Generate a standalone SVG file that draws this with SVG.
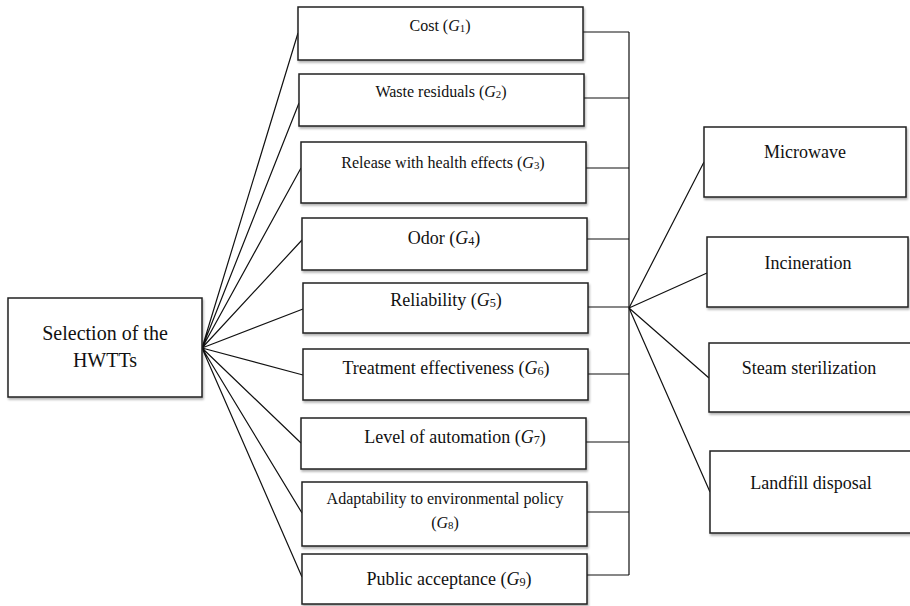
<svg xmlns="http://www.w3.org/2000/svg" width="910" height="606" viewBox="0 0 910 606">
<style>
.box{fill:#fff;stroke:#222;stroke-width:1.5;filter:url(#sh)}
text{font-family:'Liberation Serif','DejaVu Serif',serif;fill:#111;text-anchor:middle}
.s16{font-size:16px}.s18{font-size:18px}.s20{font-size:20px}
.i{font-style:italic}
.sub{font-size:68%}
.ln{stroke:#111;stroke-width:1.2;fill:none}
</style>
<defs>
<filter id="sh" x="-5%" y="-5%" width="110%" height="120%">
<feDropShadow dx="1" dy="2" stdDeviation="1" flood-color="#000" flood-opacity="0.3"/>
</filter>
</defs>
<rect width="910" height="606" fill="#fff"/>
<g id="connectors">
<path class="ln" d="M202,348 L298,33 M202,348 L299,103 M202,348 L301,168 M202,348 L302,240 M202,348 L303,309 M202,348 L303,375 M202,348 L301,443 M202,348 L302,513 M202,348 L302,577"/>
<path class="ln" d="M583,32 H629 M584,98 H629 M586,168 H629 M587,239 H629 M588,307 H629 M588,374 H629 M586,442 H629 M587,512 H629 M587,575 H629 M629,32 V575"/>
<path class="ln" d="M629,308 L704,162 M629,308 L707,273 M629,308 L709,378 M629,308 L710,492"/>
</g>
<g id="root"><rect class="box" x="8" y="298" width="194" height="99"/>
<text class="s20" x="105" y="340">Selection of the</text><text class="s20" x="105" y="367">HWTTs</text></g>
<g id="g1"><rect class="box" x="298" y="7" width="285" height="53"/>
<text class="s16" x="440" y="31">Cost (<tspan class="i">G</tspan><tspan class="sub" dy="1">1</tspan><tspan dy="-1">)</tspan></text></g>
<g id="g2"><rect class="box" x="299" y="74" width="285" height="52"/>
<text class="s16" x="441" y="97">Waste residuals (<tspan class="i">G</tspan><tspan class="sub" dy="1">2</tspan><tspan dy="-1">)</tspan></text></g>
<g id="g3"><rect class="box" x="301" y="142" width="285" height="61"/>
<text class="s16" x="443" y="168">Release with health effects (<tspan class="i">G</tspan><tspan class="sub" dy="1">3</tspan><tspan dy="-1">)</tspan></text></g>
<g id="g4"><rect class="box" x="302" y="218" width="285" height="52"/>
<text class="s18" x="444" y="244">Odor (<tspan class="i">G</tspan><tspan class="sub" dy="1">4</tspan><tspan dy="-1">)</tspan></text></g>
<g id="g5"><rect class="box" x="303" y="283" width="285" height="50"/>
<text class="s18" x="446" y="306">Reliability (<tspan class="i">G</tspan><tspan class="sub" dy="1">5</tspan><tspan dy="-1">)</tspan></text></g>
<g id="g6"><rect class="box" x="303" y="349" width="285" height="51"/>
<text class="s18" x="446" y="374">Treatment effectiveness (<tspan class="i">G</tspan><tspan class="sub" dy="1">6</tspan><tspan dy="-1">)</tspan></text></g>
<g id="g7"><rect class="box" x="301" y="418" width="285" height="51"/>
<text class="s18" x="455" y="443">Level of automation (<tspan class="i">G</tspan><tspan class="sub" dy="1">7</tspan><tspan dy="-1">)</tspan></text></g>
<g id="g8"><rect class="box" x="302" y="482" width="285" height="64"/>
<text class="s16" x="445" y="504">Adaptability to environmental policy</text>
<text class="s16" x="445" y="528">(<tspan class="i">G</tspan><tspan class="sub" dy="1">8</tspan><tspan dy="-1">)</tspan></text></g>
<g id="g9"><rect class="box" x="302" y="554" width="285" height="50"/>
<text class="s18" x="449" y="585">Public acceptance (<tspan class="i">G</tspan><tspan class="sub" dy="1">9</tspan><tspan dy="-1">)</tspan></text></g>
<g id="a1"><rect class="box" x="704" y="127" width="202" height="70"/>
<text class="s18" x="805" y="158">Microwave</text></g>
<g id="a2"><rect class="box" x="707" y="237" width="201" height="70"/>
<text class="s18" x="808" y="269">Incineration</text></g>
<g id="a3"><rect class="box" x="709" y="343" width="203" height="69"/>
<text class="s18" x="809" y="374">Steam sterilization</text></g>
<g id="a4"><rect class="box" x="710" y="451" width="203" height="82"/>
<text class="s18" x="811" y="489">Landfill disposal</text></g>
</svg>
